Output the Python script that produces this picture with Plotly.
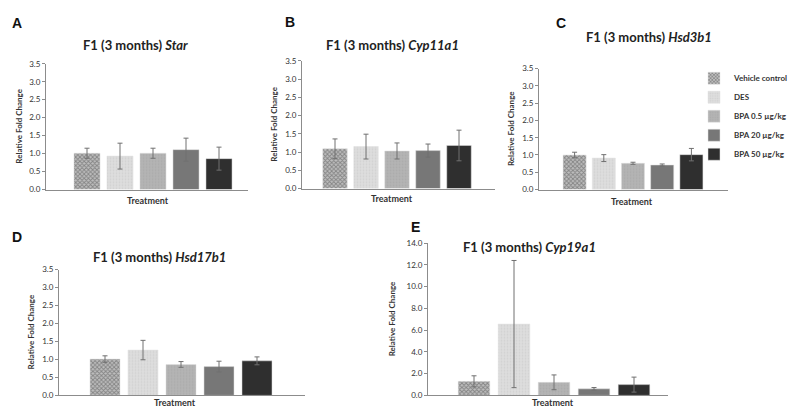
import plotly.graph_objects as go

# ---------------- data ----------------
groups = ["Vehicle control", "DES", "BPA 0.5 µg/kg", "BPA 20 µg/kg", "BPA 50 µg/kg"]
genes = ["Star", "Cyp11a1", "Hsd3b1", "Hsd17b1", "Cyp19a1"]
panel_letters = ["A", "B", "C", "D", "E"]

star_mean = [1.01, 0.93, 1.01, 1.11, 0.86]
star_err = [0.14, 0.36, 0.14, 0.32, 0.32]
cyp11a1_mean = [1.09, 1.15, 1.03, 1.04, 1.18]
cyp11a1_err = [0.27, 0.34, 0.22, 0.18, 0.42]
hsd3b1_mean = [1.00, 0.91, 0.76, 0.71, 1.01]
hsd3b1_err = [0.08, 0.10, 0.03, 0.03, 0.18]
hsd17b1_mean = [1.01, 1.26, 0.86, 0.80, 0.96]
hsd17b1_err = [0.09, 0.27, 0.08, 0.15, 0.11]
cyp19a1_mean = [1.29, 6.56, 1.20, 0.60, 0.99]
cyp19a1_err = [0.51, 5.85, 0.68, 0.12, 0.69]

means = [star_mean, cyp11a1_mean, hsd3b1_mean, hsd17b1_mean, cyp19a1_mean]
errs = [star_err, cyp11a1_err, hsd3b1_err, hsd17b1_err, cyp19a1_err]

y_max = [3.5, 3.5, 3.5, 3.5, 14.0]
y_dtick = [0.5, 0.5, 0.5, 0.5, 2.0]
y_fmt = [".1f", ".1f", ".1f", ".1f", ".1f"]

# ---------------- styling ----------------
W, H = 800, 407
fills = ["#8a8a8a", "#d6d6d6", "#b0b0b0", "#777777", "#2f2f2f"]
patterns = [
    dict(shape="x", fgcolor="#4a4a4a", bgcolor="#bdbdbd", size=3, solidity=0.5),
    dict(shape=".", fgcolor="#c4c4c4", bgcolor="#dedede", size=3, solidity=0.3),
    dict(shape=".", fgcolor="#a2a2a2", bgcolor="#b4b4b4", size=3, solidity=0.3),
    dict(shape="", fgcolor="#6c6c6c", bgcolor="#777777"),
    dict(shape="", fgcolor="#2f2f2f", bgcolor="#2f2f2f"),
]

# pixel geometry of each panel: plot left, right, top(ymax), bottom(0); cluster center px; cluster width px
px_boxes = [
    (38, 240, 52, 181, 145, 165),
    (294, 487, 49, 180, 389, 155),
    (531, 720, 57, 181, 625, 146),
    (51, 297, 263, 392, 173, 190),
    (420, 660, 236, 392, 546, 200),
]
title_pos = [(127, 33), (384, 33), (641, 25), (151, 250), (521, 240)]
letter_pos = [(9, 10), (282, 9), (553, 10), (9, 230), (407, 219)]
ytitle_x = [11, 266, 503, 23, 384]
xtitle_pos = [(140, 192), (384, 190), (624, 193), (167, 399), (545, 399)]

FONT = "Lato"
BARGAP = 0.2

fig = go.Figure()
layout = dict(
    width=W, height=H, margin=dict(l=0, r=0, t=0, b=0),
    paper_bgcolor="white", plot_bgcolor="white",
    barmode="group", bargap=BARGAP, bargroupgap=0.21,
    font=dict(family=FONT, color="#333333"),
    showlegend=True,
    legend=dict(x=686 / W, y=1 - 52 / H, xanchor="left", yanchor="top",
                font=dict(size=8, family=FONT, color="#333333", weight="bold"),
                itemwidth=30, tracegroupgap=0, bgcolor="rgba(0,0,0,0)"),
)
annotations = []

for p in range(5):
    ax = "" if p == 0 else str(p + 1)
    left, right, top, bottom, cc, cw = px_boxes[p]
    # x range so that cluster sits at cc with width cw
    L = (1 - BARGAP) * (right - left) / cw
    start = -(cc - left) / (right - left) * L
    layout["xaxis" + ax] = dict(
        domain=[left / W, right / W], anchor="y" + ax,
        range=[start, start + L], showticklabels=False, ticks="",
        showline=True, linecolor="#8c8c8c", linewidth=1, showgrid=False, zeroline=False,
        fixedrange=True,
    )
    layout["yaxis" + ax] = dict(
        domain=[1 - bottom / H, 1 - top / H], anchor="x" + ax,
        range=[0, y_max[p]], dtick=y_dtick[p], tickformat=y_fmt[p],
        showline=True, linecolor="#8c8c8c", linewidth=1, showgrid=False, zeroline=False,
        ticks="outside", ticklen=3, tickcolor="#8c8c8c", tickfont=dict(size=8, color="#333333"),
        fixedrange=True,
    )
    for g in range(5):
        fig.add_trace(go.Bar(
            x=["Treatment"], y=[means[p][g]], name=groups[g],
            xaxis="x" + ax, yaxis="y" + ax,
            legendgroup=groups[g], showlegend=(p == 2),
            marker=dict(color=fills[g], pattern=patterns[g],
                        line=dict(color="#e0e0e0", width=0.5)),
            error_y=dict(type="data", array=[errs[p][g]], color="#707070", thickness=1, width=2.5),
        ))
    tx, ty = title_pos[p]
    annotations.append(dict(
        x=tx / W, y=1 - ty / H, xref="paper", yref="paper", showarrow=False,
        text="<b>F1 (3 months) <i>%s</i></b>" % genes[p],
        font=dict(size=13, family=FONT, color="#222222"), xanchor="center", yanchor="middle"))
    lx, ly = letter_pos[p]
    annotations.append(dict(
        x=lx / W, y=1 - ly / H, xref="paper", yref="paper", showarrow=False,
        text="<b>%s</b>" % panel_letters[p],
        font=dict(size=14, family="Liberation Sans", color="#111111"), xanchor="center", yanchor="middle"))
    annotations.append(dict(
        x=ytitle_x[p] / W, y=1 - ((top + bottom) / 2) / H, xref="paper", yref="paper", showarrow=False,
        text="<b>Relative Fold Change</b>", textangle=-90,
        font=dict(size=8, family=FONT, color="#333333"), xanchor="center", yanchor="middle"))
    xx, xy = xtitle_pos[p]
    annotations.append(dict(
        x=xx / W, y=1 - xy / H, xref="paper", yref="paper", showarrow=False,
        text="<b>Treatment</b>",
        font=dict(size=9, family=FONT, color="#333333"), xanchor="center", yanchor="middle"))

layout["annotations"] = annotations
fig.update_layout(**layout)
fig.write_html("out.html")
